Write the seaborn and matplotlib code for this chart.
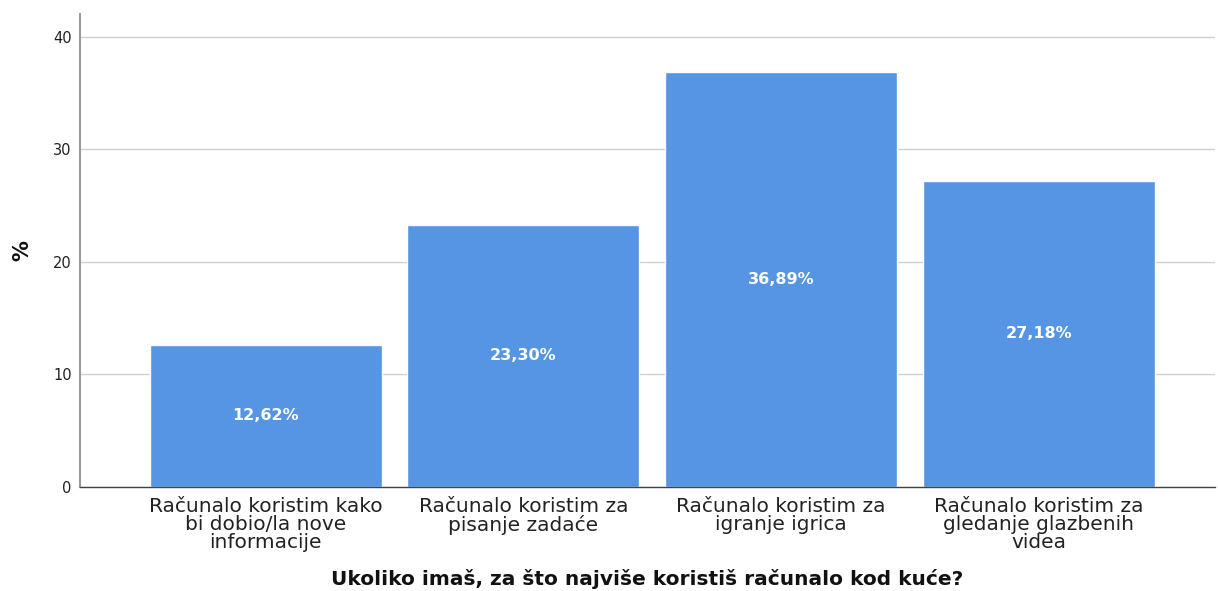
import matplotlib
matplotlib.use("Agg")
import matplotlib.pyplot as plt
import seaborn as sns
import pandas as pd

sns.set_style("white")
plt.rcParams['font.family'] = ['DejaVu Sans']

categories = ["Računalo koristim kako\nbi dobio/la nove\ninformacije",
              "Računalo koristim za\npisanje zadaće",
              "Računalo koristim za\nigranje igrica",
              "Računalo koristim za\ngledanje glazbenih\nvidea"]
percent = [12.62, 23.30, 36.89, 27.18]
y_ticks = [0, 10, 20, 30, 40]

df = pd.DataFrame({"cat": categories, "pct": percent})

fig = plt.figure(figsize=(12.18, 5.91), dpi=100)
ax = fig.add_axes([0.0657, 0.176, 0.932, 0.800])

sns.barplot(data=df, x="cat", y="pct", color="#5595e3", saturation=1,
            width=0.9, ax=ax, zorder=2)

# value labels in the middle of each bar, decimal comma
labels = [f"{v:.2f}%".replace(".", ",") for v in percent]
ax.bar_label(ax.containers[0], labels=labels, label_type="center",
             color="white", fontweight="bold", fontsize=11.5)

ax.set_xlim(-0.72, 3.684)
ax.set_ylim(0, 42)
ax.set_yticks(y_ticks)
ax.yaxis.grid(True, color="#cfcfcf", linewidth=1, zorder=0)
ax.set_axisbelow(True)

ax.tick_params(axis="x", length=0, pad=7, labelsize=14.5, colors="#222222")
ax.tick_params(axis="y", length=3, width=1, color="#aaaaaa", labelsize=10.5,
               pad=3, colors="#222222")
for t in ax.get_xticklabels():
    t.set_linespacing(0.95)

for s in ["top", "right"]:
    ax.spines[s].set_visible(False)
ax.spines["left"].set_color("#9a9a9a")
ax.spines["left"].set_linewidth(1.5)
ax.spines["bottom"].set_color("#444444")
ax.spines["bottom"].set_linewidth(1)

ax.set_xlabel("Ukoliko imaš, za što najviše koristiš računalo kod kuće?",
              fontsize=14.5, fontweight="bold", labelpad=12, color="#111111")
ax.set_ylabel("%", fontsize=15, fontweight="bold", labelpad=15, color="#111111")

fig.savefig("out.png", dpi=100)
